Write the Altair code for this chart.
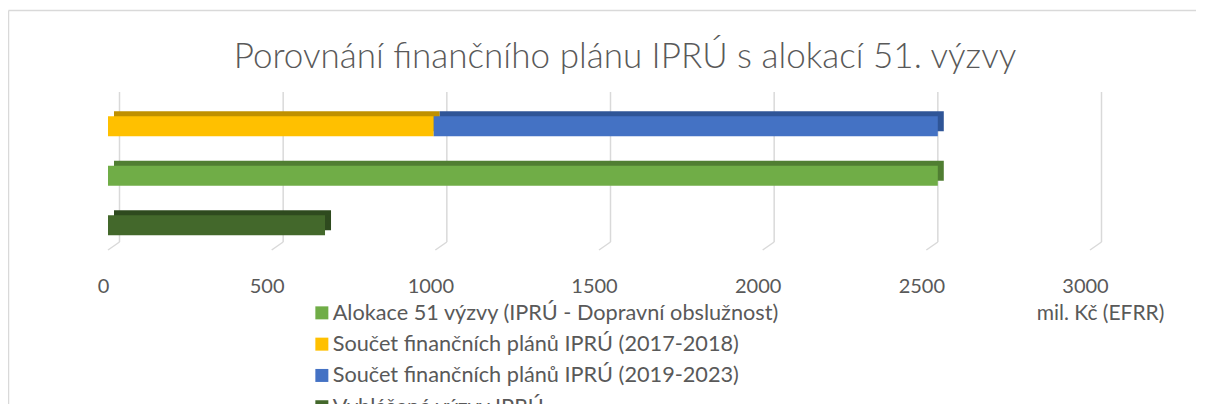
import altair as alt
import pandas as pd

# ---- data ----
rows = ["Plán", "Alokace", "Vyhlášené"]
series = [
    "Alokace 51 výzvy (IPRÚ - Dopravní obslužnost)",
    "Součet finančních plánů IPRÚ (2017-2018)",
    "Součet finančních plánů IPRÚ (2019-2023)",
    "Vyhlášené výzvy IPRÚ",
]
series_row = ["Alokace", "Plán", "Plán", "Vyhlášené"]
values = [2535, 995, 1540, 663]
stack_order = [0, 0, 1, 0]
front_colors = ["#70AD47", "#FFC000", "#4472C4", "#43682B"]
top_colors = ["#507E32", "#BF9000", "#2F5597", "#2E4A1E"]
ticks = [0, 500, 1000, 1500, 2000, 2500, 3000]
chart_title = "Porovnání finančního plánu IPRÚ s alokací 51. výzvy"
unit_label = "mil. Kč (EFRR)"

# ---- build table (stacked starts/ends) ----
df = pd.DataFrame({
    "series": series, "row": series_row, "value": values,
    "order": stack_order, "top": top_colors,
})
df = df.sort_values(["row", "order"])
df["end"] = df.groupby("row")["value"].cumsum()
df["start"] = df["end"] - df["value"]
tick_df = pd.DataFrame({"t": ticks})
one = pd.DataFrame({"d": [0]})

FONT = "Lato"
GREY = "#595959"
W, H = 982, 158

xscale = alt.Scale(domain=[0, 3000], nice=False, zero=True)
yscale = alt.Scale(domain=rows, range=[9.5, 158], paddingInner=0, paddingOuter=0)
xaxis = alt.Axis(
    values=ticks, format="d", domain=False, ticks=False, tickSize=0, grid=False,
    labelFont=FONT, labelFontSize=20, labelColor=GREY, labelPadding=36,
    labelBaseline="middle", labelOffset=-5, labelFlush=False, labelOverlap=False,
    title=unit_label, titleFont=FONT, titleFontSize=21, titleFontWeight="normal",
    titleColor=GREY, titleX=992, titleY=63, titleBaseline="middle", titleAlign="center",
    zindex=1,
)

# chart frame (top and left edges; the others lie outside the picture)
frame_top = alt.Chart(one).mark_rule(color="#d9d9d9", strokeWidth=1.5).encode(
    x=alt.value(-99.5), x2=alt.value(1150), y=alt.value(-81.5)
)
frame_left = alt.Chart(one).mark_rule(color="#d9d9d9", strokeWidth=1.5).encode(
    x=alt.value(-99.5), y=alt.value(-81.5), y2=alt.value(400)
)

grid = alt.Chart(tick_df).mark_rule(
    color="#d9d9d9", strokeWidth=1.5, xOffset=11.5
).encode(
    x=alt.X("t:Q", scale=xscale, axis=xaxis),
    y=alt.value(0), y2=alt.value(150),
)

floor = alt.Chart(tick_df).mark_rule(
    color="#d9d9d9", strokeWidth=1.5, xOffset=11.5, x2Offset=0
).encode(
    x=alt.X("t:Q", scale=xscale, axis=xaxis), x2="t:Q",
    y=alt.value(150), y2=alt.value(158),
)

back = alt.Chart(df).mark_bar(size=20, xOffset=6, x2Offset=6, yOffset=-5).encode(
    x=alt.X("start:Q", scale=xscale, axis=xaxis), x2="end:Q",
    y=alt.Y("row:N", scale=yscale, axis=None),
    color=alt.Color("top:N", scale=None),
)

front = alt.Chart(df).mark_bar(size=20).encode(
    x=alt.X("start:Q", scale=xscale, axis=xaxis), x2="end:Q",
    y=alt.Y("row:N", scale=yscale, axis=None),
    color=alt.Color("series:N", scale=alt.Scale(domain=series, range=front_colors),
                    legend=alt.Legend(
                        title=None, orient="none", legendX=203, legendY=210,
                        symbolType="square", symbolSize=169, symbolStrokeWidth=0,
                        labelFont=FONT, labelFontSize=21.7, labelColor=GREY,
                        labelOffset=0, rowPadding=8.3, padding=0, labelLimit=0,
                    )),
)

title = alt.Chart(pd.DataFrame({"t": [chart_title]})).mark_text(
    font=FONT, fontSize=35, fontWeight=300, color=GREY, align="center", baseline="middle"
).encode(text="t:N", x=alt.value(517), y=alt.value(-35))

chart = alt.layer(frame_top, frame_left, grid, floor, back, front, title).properties(
    width=W, height=H,
    autosize=alt.AutoSizeParams(type="none"),
    padding={"left": 100, "top": 84, "right": 106, "bottom": 154},
    background="white",
).configure_view(stroke=None)

chart.save("out.html", embed_options={"renderer": "svg", "actions": False})
